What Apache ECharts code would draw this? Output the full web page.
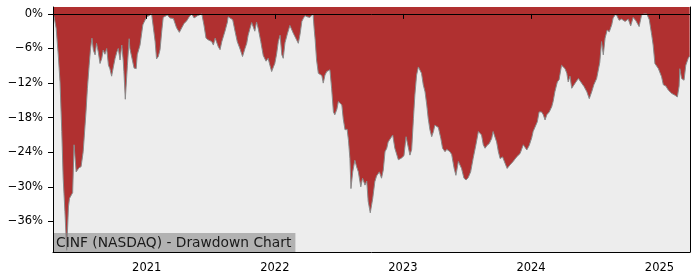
<!DOCTYPE html>
<html>
<head>
<meta charset="utf-8">
<script src="https://cdn.jsdelivr.net/npm/echarts@6/dist/echarts.min.js"></script>
<style>html,body{margin:0;padding:0;background:#fff}#c{width:700px;height:280px}</style>
</head>
<body>
<div id="c"></div>
<script>
var chartTitle = 'CINF (NASDAQ) - Drawdown Chart';
var dates = [
'2020-04-09','2020-04-12','2020-04-18','2020-04-24','2020-04-29','2020-05-04','2020-05-08','2020-05-13','2020-05-18','2020-05-23',
'2020-05-26','2020-05-29','2020-06-04','2020-06-08','2020-06-11','2020-06-14','2020-06-22','2020-06-28','2020-07-04','2020-07-12',
'2020-07-16','2020-07-21','2020-07-25','2020-07-29','2020-08-02','2020-08-07','2020-08-11','2020-08-16','2020-08-21','2020-08-26',
'2020-08-30','2020-09-04','2020-09-09','2020-09-14','2020-09-18','2020-09-23','2020-09-28','2020-10-03','2020-10-08','2020-10-12',
'2020-10-17','2020-10-22','2020-10-26','2020-10-28','2020-11-01','2020-11-07','2020-11-12','2020-11-14','2020-11-19','2020-11-26',
'2020-12-02','2020-12-05','2020-12-13','2020-12-21','2020-12-24','2021-01-01','2021-01-08','2021-01-15','2021-01-20','2021-01-25',
'2021-01-29','2021-02-03','2021-02-08','2021-02-13','2021-02-17','2021-02-22','2021-03-01','2021-03-08','2021-03-18','2021-03-27',
'2021-04-04','2021-04-09','2021-04-17','2021-04-25','2021-05-02','2021-05-09','2021-05-16','2021-05-19','2021-05-26','2021-05-30',
'2021-06-07','2021-06-13','2021-06-19','2021-06-25','2021-06-30','2021-07-05','2021-07-10','2021-07-15','2021-07-20','2021-07-24',
'2021-07-29','2021-08-03','2021-08-06','2021-08-12','2021-08-19','2021-08-21','2021-08-26','2021-09-03','2021-09-10','2021-09-16',
'2021-09-24','2021-10-01','2021-10-08','2021-10-13','2021-10-17','2021-10-27','2021-11-01','2021-11-05','2021-11-10','2021-11-15',
'2021-11-22','2021-11-29','2021-12-07','2021-12-13','2021-12-18','2021-12-23','2021-12-28','2022-01-01','2022-01-06','2022-01-11',
'2022-01-16','2022-01-21','2022-01-25','2022-01-30','2022-02-06','2022-02-13','2022-02-18','2022-02-23','2022-02-28','2022-03-09',
'2022-03-14','2022-03-19','2022-03-23','2022-03-28','2022-04-03','2022-04-06','2022-04-11','2022-04-16','2022-04-20','2022-04-23',
'2022-04-26','2022-04-30','2022-05-05','2022-05-10','2022-05-15','2022-05-19','2022-05-24','2022-05-29','2022-06-02','2022-06-07',
'2022-06-12','2022-06-17','2022-06-21','2022-06-27','2022-07-01','2022-07-11','2022-07-15','2022-07-20','2022-07-26','2022-07-30',
'2022-08-03','2022-08-06','2022-08-11','2022-08-17','2022-08-22','2022-08-27','2022-09-03','2022-09-08','2022-09-15','2022-09-20',
'2022-09-24','2022-09-30','2022-10-07','2022-10-13','2022-10-18','2022-10-26','2022-11-01','2022-11-06','2022-11-11','2022-11-16',
'2022-11-20','2022-11-25','2022-12-03','2022-12-09','2022-12-14','2022-12-19','2022-12-24','2022-12-28','2023-01-04','2023-01-10',
'2023-01-15','2023-01-21','2023-01-26','2023-01-31','2023-02-04','2023-02-09','2023-02-14','2023-02-19','2023-02-23','2023-02-28',
'2023-03-05','2023-03-10','2023-03-14','2023-03-19','2023-03-24','2023-03-29','2023-04-02','2023-04-07','2023-04-12','2023-04-19',
'2023-04-24','2023-05-01','2023-05-06','2023-05-10','2023-05-15','2023-05-20','2023-05-27','2023-06-01','2023-06-08','2023-06-13',
'2023-06-17','2023-06-24','2023-06-30','2023-07-06','2023-07-13','2023-07-20','2023-07-28','2023-08-04','2023-08-09','2023-08-13',
'2023-08-18','2023-08-23','2023-08-29','2023-09-04','2023-09-11','2023-09-15','2023-09-20','2023-09-25','2023-09-30','2023-10-05',
'2023-10-12','2023-10-19','2023-10-25','2023-11-02','2023-11-11','2023-11-21','2023-12-01','2023-12-10','2023-12-20','2023-12-27',
'2024-01-03','2024-01-07','2024-01-12','2024-01-19','2024-01-24','2024-01-31','2024-02-05','2024-02-10','2024-02-15','2024-02-22',
'2024-02-29','2024-03-04','2024-03-09','2024-03-16','2024-03-21','2024-03-28','2024-04-02','2024-04-07','2024-04-12','2024-04-16',
'2024-04-21','2024-04-26','2024-04-30','2024-05-08','2024-05-15','2024-05-19','2024-05-24','2024-05-31','2024-06-08','2024-06-15',
'2024-06-22','2024-06-28','2024-07-06','2024-07-11','2024-07-15','2024-07-20','2024-07-25','2024-07-30','2024-08-05','2024-08-11',
'2024-08-18','2024-08-22','2024-08-30','2024-09-03','2024-09-08','2024-09-15','2024-09-25','2024-10-04','2024-10-11','2024-10-18',
'2024-10-26','2024-11-04','2024-11-11','2024-11-18','2024-11-26','2024-12-03','2024-12-10','2024-12-14','2024-12-19','2024-12-29',
'2025-01-07','2025-01-12','2025-01-19','2025-01-26','2025-02-05','2025-02-14','2025-02-21','2025-02-26','2025-02-28','2025-03-05',
'2025-03-12','2025-03-17','2025-03-24','2025-03-28'
];
var drawdown = [
0,-0.5,-2.5,-7.1,-11.8,-20.4,-28.5,-34.3,-41.0,-33.5,
-32.0,-32.0,-31.0,-22.7,-22.4,-27.4,-26.7,-26.5,-23.9,-17.0,
-12.9,-8.9,-6.0,-4.2,-6.3,-7.1,-5.1,-6.6,-8.6,-7.7,
-6.3,-7.0,-6.0,-8.9,-9.5,-10.8,-9.2,-7.7,-6.6,-6.0,
-8.0,-5.4,-8.0,-10.0,-14.8,-8.9,-4.3,-6.0,-6.3,-9.4,
-9.5,-7.1,-5.4,-1.9,-1.5,-0.5,-0.3,0,0,-4.8,
-7.8,-7.4,-6.2,-2.9,-0.6,-0.6,-0.2,-0.7,-0.8,-2.4,
-3.2,-2.9,-1.7,-1.2,-0.5,0,-0.7,-0.8,-0.3,-0.6,
0,-1.9,-4.2,-4.5,-4.5,-4.8,-5.4,-4.2,-4.5,-5.7,
-6.2,-4.8,-4.2,-3.0,-1.4,-0.5,-0.2,-1.0,-3.1,-4.8,
-6.1,-7.4,-6.0,-5.1,-3.7,-1.5,-1.4,-3.0,-1.4,-2.6,
-4.8,-7.2,-8.2,-7.7,-8.9,-10.0,-9.2,-8.6,-7.0,-4.8,
-3.7,-7.1,-7.7,-5.0,-3.4,-2.0,-1.9,-3.4,-3.7,-5.1,
-3.5,-1.3,-0.8,-0.3,-0.5,-0.2,-0.6,-0.3,0,-2.5,
-4.5,-8.0,-10.3,-10.4,-10.7,-12.0,-10.6,-10.0,-10.0,-9.7,
-13.0,-17.0,-17.5,-16.5,-15.2,-15.8,-18.2,-20.1,-20.0,-22.0,
-25.1,-30.3,-27.4,-25.4,-26.5,-27.4,-30.0,-28.5,-29.7,-29.0,
-32.5,-34.5,-32.0,-29.1,-28.1,-27.4,-28.5,-27.1,-23.9,-23.3,
-22.2,-22.0,-21.0,-23.3,-23.4,-25.3,-25.1,-25.0,-24.6,-21.3,
-21.6,-24.5,-23.5,-18.1,-14.1,-10.6,-9.2,-8.9,-10.3,-12.3,
-13.5,-15.8,-18.1,-20.1,-21.3,-20.4,-19.3,-19.0,-19.7,-21.6,
-23.3,-23.9,-23.5,-23.6,-23.9,-24.4,-26.8,-28.0,-25.6,-25.9,
-26.8,-28.5,-28.8,-28.4,-27.4,-25.1,-22.7,-20.4,-20.1,-21.0,
-22.7,-23.3,-22.8,-22.5,-21.6,-20.4,-20.1,-22.2,-23.9,-25.1,
-24.8,-25.9,-26.8,-26.2,-25.6,-24.8,-24.2,-22.7,-23.6,-22.8,
-21.5,-20.4,-20.2,-18.7,-17.0,-17.0,-17.5,-18.4,-17.5,-17.0,
-16.1,-15.2,-13.5,-11.8,-11.4,-8.9,-8.9,-9.5,-10.3,-11.8,
-10.8,-12.9,-12.9,-11.8,-11.2,-11.5,-12.0,-12.6,-13.5,-14.7,
-13.5,-12.3,-11.2,-11.2,-8.4,-4.8,-7.1,-4.2,-2.8,-3.1,
-1.9,-0.7,0,-0.3,-1.1,-0.9,-1.3,-0.9,-2.1,-0.6,
-1.2,-2.2,-0.2,0,0,-1.0,-3.7,-5.4,-8.6,-9.5,
-10.9,-12.3,-12.5,-13.2,-13.8,-14.1,-14.4,-12.5,-9.5,-11.2,
-11.5,-8.9,-7.7,-7.3
];
var yTickValues = [0, -6, -12, -18, -24, -30, -36];
var xTickDates = ['2021-01-01', '2022-01-01', '2023-01-01', '2024-01-01', '2025-01-01'];
var xRange = ['2020-04-09', '2025-03-29'];
var yRange = [-41.3, 1.2];

var FONT = 'DejaVu Sans';
function toTime(s) {
  var p = s.split('-');
  return new Date(+p[0], +p[1] - 1, +p[2]).getTime();
}
var xTickValues = xTickDates.map(toTime);
var seriesData = dates.map(function (d, i) { return [toTime(d), drawdown[i]]; });

var chart = echarts.init(document.getElementById('c'), null, {renderer: 'canvas'});
chart.setOption({
  animation: false,
  title: {
    text: chartTitle,
    left: 53, bottom: 28,
    padding: [3, 4, 2, 3],
    backgroundColor: 'rgba(130,130,130,0.55)',
    textStyle: {fontFamily: FONT, fontSize: 13.8, fontWeight: 'normal', color: '#1a1a1a'}
  },
  grid: {left: 53, right: 10, top: 7, bottom: 28, show: true, backgroundColor: '#ededed', borderWidth: 0},
  xAxis: [{
    type: 'value', min: toTime(xRange[0]), max: toTime(xRange[1]), z: 10,
    axisLine: {show: true, lineStyle: {color: '#000', width: 1}},
    axisTick: {show: true, length: 5, lineStyle: {color: '#000'}, customValues: xTickValues},
    axisLabel: {fontFamily: FONT, fontSize: 11.5, color: '#000', margin: 10, customValues: xTickValues,
      formatter: function (v) { return String(new Date(v).getFullYear()); }},
    splitLine: {show: false}
  }, {
    type: 'value', position: 'top', min: 0, max: 1, z: 10,
    axisLine: {show: true, lineStyle: {color: '#000', width: 1}},
    axisTick: {show: false}, axisLabel: {show: false}, splitLine: {show: false}
  }],
  yAxis: [{
    type: 'value', min: yRange[0], max: yRange[1], z: 10,
    axisLine: {show: true, lineStyle: {color: '#000', width: 1}},
    axisTick: {show: true, length: 5, lineStyle: {color: '#000'}, customValues: yTickValues},
    axisLabel: {fontFamily: FONT, fontSize: 11.5, color: '#000', margin: 10, customValues: yTickValues,
      formatter: function (v) { return (v < 0 ? '\u2212' : '') + Math.abs(v) + '%'; }},
    splitLine: {show: false}
  }, {
    type: 'value', position: 'right', min: 0, max: 1, z: 10,
    axisLine: {show: true, lineStyle: {color: '#000', width: 1}},
    axisTick: {show: false}, axisLabel: {show: false}, splitLine: {show: false}
  }],
  series: [{
    type: 'line', xAxisIndex: 0, yAxisIndex: 0,
    data: seriesData,
    showSymbol: false, symbol: 'none',
    lineStyle: {color: '#8a8a8a', width: 1},
    areaStyle: {color: '#b03030', opacity: 1, origin: 'end'},
    z: 2
  }]
});
</script>
</body>
</html>
